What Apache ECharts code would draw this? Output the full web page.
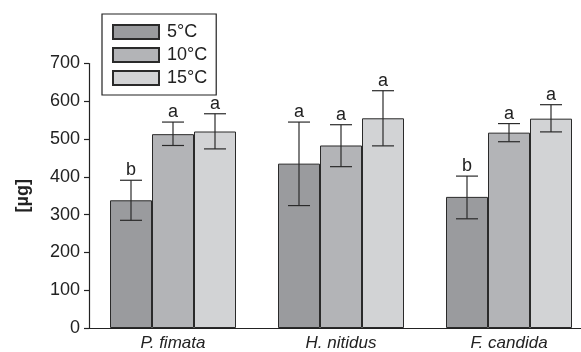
<!DOCTYPE html>
<html>
<head>
<meta charset="utf-8">
<script src="https://cdn.jsdelivr.net/npm/echarts@6/dist/echarts.min.js"></script>
<style>html,body{margin:0;padding:0;background:#fff}#c{width:581px;height:352px}</style>
</head>
<body>
<div id="c"></div>
<script>
var categories = ['P. fimata', 'H. nitidus', 'F. candida'];
var seriesNames = ['5°C', '10°C', '15°C'];
var mean5  = [338, 435, 347];
var mean10 = [513, 483, 517];
var mean15 = [520, 555, 554];
var low5  = [285, 324, 289];
var high5 = [391, 545, 402];
var low10  = [483, 427, 493];
var high10 = [545, 538, 541];
var low15  = [474, 482, 519];
var high15 = [567, 628, 591];
var letters5  = ['b', 'a', 'b'];
var letters10 = ['a', 'a', 'a'];
var letters15 = ['a', 'a', 'a'];
var yTicks = [0, 100, 200, 300, 400, 500, 600, 700];

var colors = ['#9a9b9e', '#b3b4b7', '#d2d3d5'];
var means = [mean5, mean10, mean15];
var lows = [low5, low10, low15];
var highs = [high5, high10, high15];
var letters = [letters5, letters10, letters15];
var FONT = 'Liberation Sans, Arial, sans-serif';

var series = [];
for (var s = 0; s < 3; s++) {
  series.push({
    name: seriesNames[s],
    type: 'bar',
    data: means[s],
    barGap: '0%',
    barCategoryGap: '25%',
    itemStyle: { color: colors[s], borderColor: '#2a2a2a', borderWidth: 1 },
    silent: true
  });
}
var errData = [];
for (var s2 = 0; s2 < 3; s2++) {
  for (var i = 0; i < categories.length; i++) {
    errData.push([i, lows[s2][i], highs[s2][i], s2, letters[s2][i]]);
  }
}
series.push({
  type: 'custom',
  silent: true,
  data: errData,
  encode: { x: 0, y: [1, 2] },
  z: 10,
  renderItem: function (params, api) {
    var ci = api.value(0);
    var si = api.value(3);
    var band = api.size([1, 0])[0];
    var off = (si - 1) * band * 0.25;
    var pLow = api.coord([ci, api.value(1)]);
    var pHigh = api.coord([ci, api.value(2)]);
    var x = pLow[0] + off;
    var hw = 11;
    var st = { stroke: '#2a2a2a', lineWidth: 1.2 };
    return {
      type: 'group',
      children: [
        { type: 'line', shape: { x1: x, y1: pLow[1], x2: x, y2: pHigh[1] }, style: st },
        { type: 'line', shape: { x1: x - hw, y1: pLow[1], x2: x + hw, y2: pLow[1] }, style: st },
        { type: 'line', shape: { x1: x - hw, y1: pHigh[1], x2: x + hw, y2: pHigh[1] }, style: st },
        { type: 'text', style: { text: errData[params.dataIndex][4], x: x, y: pHigh[1] - 1, align: 'center', verticalAlign: 'bottom', font: '18px ' + FONT, fill: '#222' } }
      ]
    };
  }
});

var option = {
  animation: false,
  textStyle: { fontFamily: FONT },
  grid: { left: 89, top: 63.5, width: 504, height: 264.5, containLabel: false, outerBoundsMode: 'none' },
  legend: {
    data: seriesNames,
    orient: 'vertical',
    left: 102,
    top: 14,
    padding: [9, 9, 8, 10],
    itemWidth: 46,
    itemHeight: 14,
    itemGap: 5,
    icon: 'rect',
    borderColor: '#222',
    borderWidth: 1.2,
    textStyle: { fontSize: 18, lineHeight: 16, color: '#222', fontFamily: FONT, padding: [0, 0, 0, 3] },
    selectedMode: false
  },
  xAxis: {
    type: 'category',
    data: categories,
    axisLine: { lineStyle: { color: '#222', width: 1.2 } },
    axisTick: { show: false },
    axisLabel: { fontSize: 17, fontStyle: 'italic', color: '#222', fontFamily: FONT, margin: 7 }
  },
  yAxis: {
    type: 'value',
    min: 0,
    max: 700,
    interval: 100,
    name: '[µg]',
    nameLocation: 'middle',
    nameGap: 57,
    nameTextStyle: { fontSize: 18, fontWeight: 'bold', color: '#222', fontFamily: FONT },
    axisLine: { show: true, lineStyle: { color: '#222', width: 1.2 } },
    axisTick: { show: true, length: 5, lineStyle: { color: '#222', width: 1.2 } },
    axisLabel: { fontSize: 18, color: '#222', fontFamily: FONT, margin: 9,
      formatter: function (v) { return yTicks.indexOf(v) >= 0 ? String(v) : ''; } },
    splitLine: { show: false }
  },
  series: series
};
var chart = echarts.init(document.getElementById('c'), null, { renderer: 'canvas' });
chart.setOption(option);
</script>
</body>
</html>
